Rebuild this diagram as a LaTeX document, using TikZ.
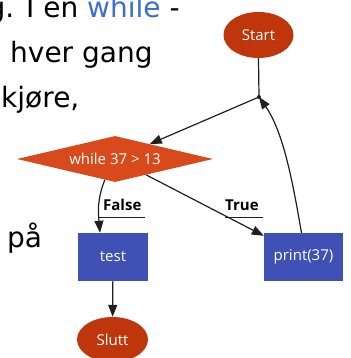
\documentclass[tikz,border=0pt]{standalone}
\usepackage{fontspec}
\setmainfont{DejaVu Sans}
\newfontfamily\diafont{Open Sans}
\usetikzlibrary{shapes.geometric,arrows.meta}

\definecolor{termred}{HTML}{BF360C}
\definecolor{condorange}{HTML}{D84A1B}
\definecolor{stepblue}{HTML}{3F51B5}
\definecolor{kwblue}{HTML}{3B6FCF}

\tikzset{
  bodytext/.style={anchor=base west, inner sep=0pt, font=\fontsize{28}{45}\selectfont},
  terminal/.style={ellipse, fill=termred, text=white, inner sep=0pt,
    font=\diafont\fontsize{15}{18}\selectfont},
  decision/.style={diamond, fill=condorange, text=white, inner sep=1pt,
    aspect=4.26, minimum width=196pt, minimum height=46pt,
    font=\diafont\fontsize{15}{18}\selectfont},
  stepbox/.style={rectangle, fill=stepblue, text=white, inner sep=0pt,
    minimum height=48pt, font=\diafont\fontsize{15}{18}\selectfont},
  edgelabel/.style={anchor=base west, inner sep=0pt,
    font=\diafont\bfseries\fontsize{15}{18}\selectfont},
  flow/.style={draw=black!88, line width=1.2pt},
  arr/.style={flow, -{Triangle[length=12pt,width=9pt]}},
}

\begin{document}
\begin{tikzpicture}[x=1pt,y=1pt]
  \useasboundingbox (0,0) rectangle (350,-358);
  \clip (0,0) rectangle (350,-358);
  \fill[white] (0,0) rectangle (350,-358);

  % running text beside the chart
  \node[bodytext] (t1) at (-12.6,-18) {g. I en \textcolor{kwblue}{while} -};
  \node[bodytext] (t2) at (10,-63) {hver gang};
  \node[bodytext] (t3) at (1,-108) {kjøre,};
  \node[bodytext] (t4) at (7,-247) {på};

  % chart nodes
  \node[terminal, minimum width=70pt, minimum height=46pt] (start) at (258.5,-35) {Start};
  \coordinate (j) at (259,-97);
  \fill[black!88] (j) circle (2pt);
  \node[decision] (d) at (115,-159) {while 37 > 13};
  \node[stepbox, minimum width=70pt] (test) at (113,-257) {test};
  \node[stepbox, minimum width=79pt] (pr) at (303.5,-257) {print(37)};
  \node[terminal, minimum width=71pt, minimum height=45pt] (slutt) at (112.5,-339.5) {Slutt};

  % connectors
  \draw[flow] (start.south) -- (j);
  \draw[arr] (j) -- (d);
  \draw[arr] ([xshift=-2pt]pr.north) to[out=100,in=-55,looseness=0.8] (j);
  \draw[arr] (d.-27) -- ([yshift=-3pt]pr.north west);
  \draw[arr] (d.244) to[out=-112,in=95] ([xshift=-13pt]test.north);
  \draw[arr] (test) -- (slutt);

  % edge labels with their underlines
  \node[edgelabel] (tl) at (225,-210.7) {True};
  \draw[flow, line width=1pt] ([yshift=-6.3pt]tl.base west) -- ([xshift=4pt,yshift=-6.3pt]tl.base east);
  \node[edgelabel] (fl) at (103,-210.7) {False};
  \draw[flow, line width=1pt] ([xshift=-5pt,yshift=-6.3pt]fl.base west) -- ([xshift=3pt,yshift=-6.3pt]fl.base east);
\end{tikzpicture}
\end{document}
